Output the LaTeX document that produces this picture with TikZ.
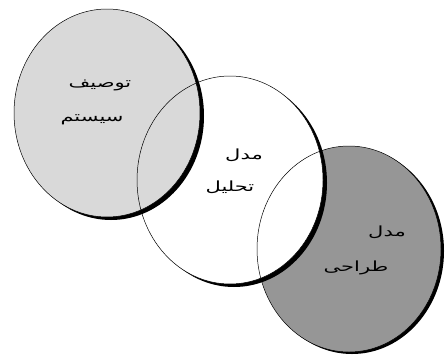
\documentclass[tikz,border=0pt]{standalone}
\usepackage{fontspec}
\newfontfamily\arabicfont[Script=Arabic]{DejaVu Sans}
\TeXXeTstate=1
\definecolor{lightfill}{RGB}{217,217,217}
\definecolor{darkfill}{RGB}{150,150,150}
\begin{document}
\begin{tikzpicture}[x=1pt,y=-1pt,
  shadowfill/.style={fill=black},
  rim/.style={draw=black,line width=0.5pt},
  lbl/.style={font=\arabicfont\fontsize{14}{16}\selectfont,inner sep=0pt,xscale=1.5}]
\useasboundingbox (0,0) rectangle (446,356);
% circle 3 (dark, back)
\fill[shadowfill] (352,251) ellipse [x radius=92, y radius=103];
\fill[darkfill] (349,249) ellipse [x radius=92, y radius=103];
% circle 2 (white, middle)
\fill[shadowfill] (234,183) ellipse [x radius=93, y radius=104];
\fill[white] (230,180) ellipse [x radius=93, y radius=104];
% circle 1 (light, front)
\fill[shadowfill] (111,116) ellipse [x radius=93, y radius=104];
\fill[lightfill] (107,113) ellipse [x radius=93, y radius=104];
% thin outlines of all three
\draw[rim] (349,249) ellipse [x radius=92, y radius=103];
\draw[rim] (230,180) ellipse [x radius=93, y radius=104];
\draw[rim] (107,113) ellipse [x radius=93, y radius=104];
% labels
\node[lbl] (t1a) at (100,85) {\beginR توصیف\endR};
\node[lbl] (t1b) at (92,120) {\beginR سیستم\endR};
\node[lbl] (t2a) at (244,155) {\beginR مدل\endR};
\node[lbl] (t2b) at (230,187) {\beginR تحلیل\endR};
\node[lbl] (t3a) at (387,232) {\beginR مدل\endR};
\node[lbl] (t3b) at (356,268) {\beginR طراحی\endR};
\end{tikzpicture}
\end{document}
